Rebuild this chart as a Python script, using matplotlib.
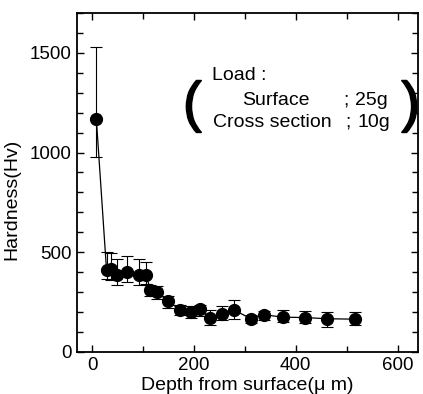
import matplotlib
matplotlib.use("Agg")
import matplotlib.pyplot as plt
import matplotlib.patheffects as pe
from matplotlib.ticker import MultipleLocator
import numpy as np

plt.rcParams['font.family'] = ['Liberation Sans', 'DejaVu Sans']

depth = [8, 28, 36, 49, 68, 91, 106, 114, 128, 149, 173, 194, 211, 232, 254, 278,
         311, 338, 374, 418, 462, 516]
hardness = [1170, 412, 415, 387, 399, 387, 387, 312, 300, 253, 211, 199, 214, 169, 189, 211,
            167, 186, 174, 172, 166, 164]
err_low_end = [978, 365, 362, 333, 350, 337, 342, 278, 265, 219, 186, 169, 178, 136, 161, 164,
               147, 161, 152, 147, 127, 136]
err_high_end = [1530, 499, 496, 466, 479, 466, 449, 337, 328, 281, 236, 228, 236, 211, 228, 258,
                186, 207, 211, 203, 198, 198]

x_ticks = [0, 200, 400, 600]
y_ticks = [0, 500, 1000, 1500]

h = np.array(hardness)
yerr = [h - np.array(err_low_end), np.array(err_high_end) - h]

fig = plt.figure(figsize=(4.23, 3.94), dpi=100)
ax = fig.add_axes([0.182, 0.107, 0.806, 0.860])

ax.errorbar(depth, hardness, yerr=yerr, fmt='o-', color='black', ms=8.5, lw=0.9,
            elinewidth=0.8, capsize=4, capthick=0.8, ecolor='black')

ax.set_xlim(-30, 640)
ax.set_ylim(0, 1700)
ax.set_xticks(x_ticks)
ax.set_yticks(y_ticks)
ax.xaxis.set_minor_locator(MultipleLocator(100))
ax.yaxis.set_minor_locator(MultipleLocator(100))
ax.tick_params(which='both', direction='in', top=True, right=True, labelsize=13.5,
               width=1.0)
ax.tick_params(which='major', length=5, pad=4)
ax.tick_params(which='minor', length=4)
for s in ax.spines.values():
    s.set_linewidth(1.3)

ax.set_xlabel('Depth from surface(\u03bc m)', fontsize=14, labelpad=2)
ax.set_ylabel('Hardness(Hv)', fontsize=14)
ax.yaxis.set_label_coords(-0.167, 0.45)

# annotation box
tfs = 14
ax.text(0.396, 0.817, 'Load :', transform=ax.transAxes, fontsize=tfs, va='center', ha='left')
ax.text(0.484, 0.743, 'Surface', transform=ax.transAxes, fontsize=tfs, va='center', ha='left')
ax.text(0.780, 0.743, ';', transform=ax.transAxes, fontsize=tfs, va='center', ha='left')
ax.text(0.815, 0.743, '25g', transform=ax.transAxes, fontsize=tfs, va='center', ha='left')
ax.text(0.399, 0.678, 'Cross section', transform=ax.transAxes, fontsize=tfs, va='center', ha='left')
ax.text(0.786, 0.678, ';', transform=ax.transAxes, fontsize=tfs, va='center', ha='left')
ax.text(0.824, 0.678, '10g', transform=ax.transAxes, fontsize=tfs, va='center', ha='left')
thick = [pe.withStroke(linewidth=1.2, foreground='black')]
ax.text(0.311, 0.723, '(', transform=ax.transAxes, fontsize=40, va='center', ha='left',
        path_effects=thick)
ax.text(0.952, 0.723, ')', transform=ax.transAxes, fontsize=40, va='center', ha='left',
        path_effects=thick)

fig.savefig('out.png', dpi=100)
